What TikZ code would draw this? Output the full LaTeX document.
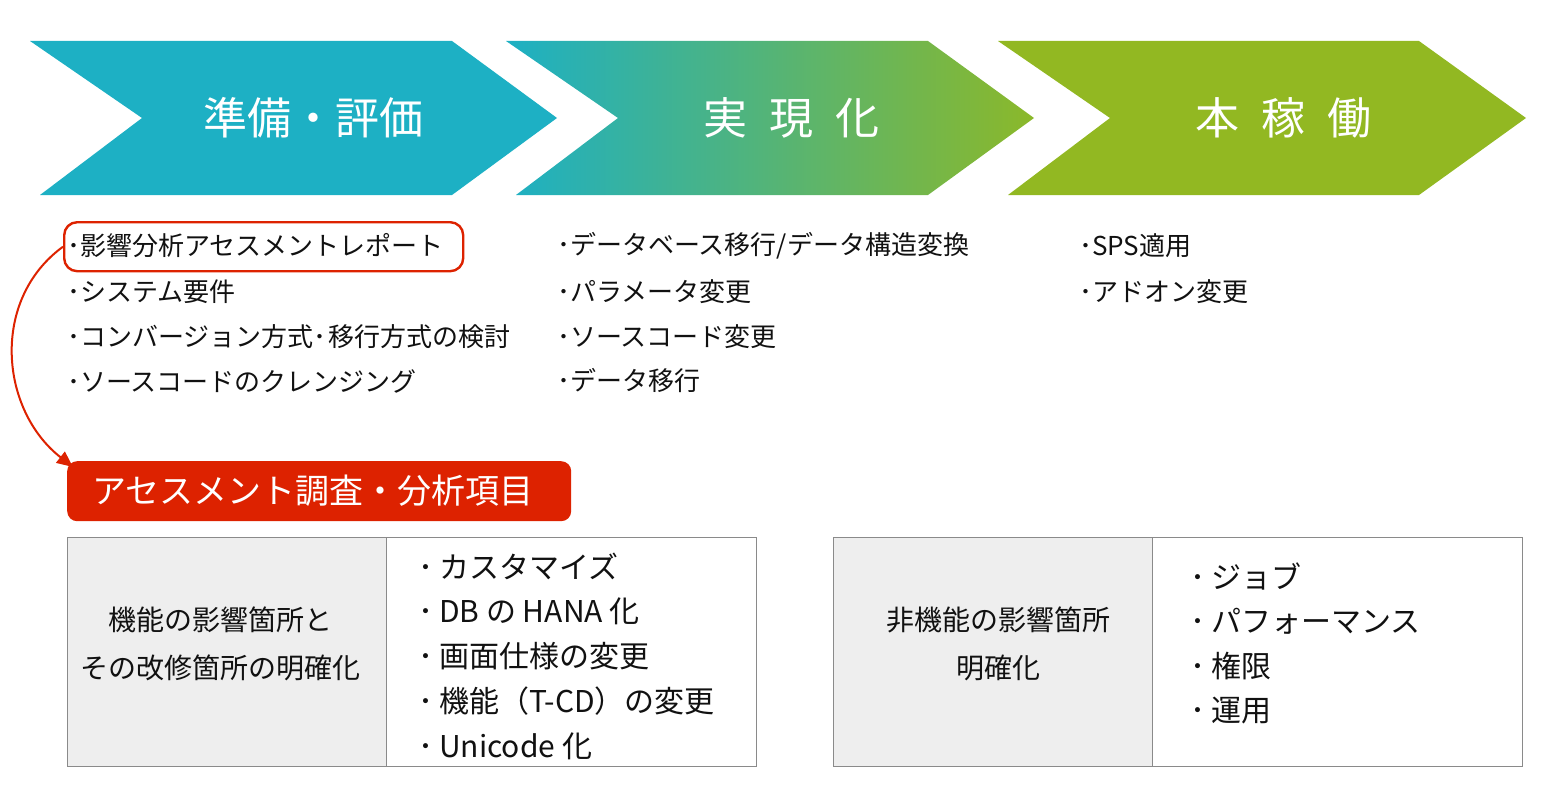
\documentclass[tikz,border=0pt]{standalone}
\usepackage{fontspec}
\setmainfont{Noto Sans CJK JP}
\usetikzlibrary{arrows.meta}
\definecolor{cteal}{HTML}{1DB0C4}
\definecolor{cgreen}{HTML}{92B822}
\definecolor{cgreenb}{HTML}{8BB82A}
\definecolor{cred}{HTML}{DD2200}
\definecolor{cgrayfill}{HTML}{EEEEEE}
\definecolor{cborder}{HTML}{8A8A8A}
\definecolor{ctext}{HTML}{111111}
\tikzset{
  title/.style={text=white, font=\fontsize{44}{50}\selectfont, inner sep=0pt},
  listitem/.style={text=ctext, font=\fontsize{26}{30}\selectfont, anchor=west, inner sep=0pt},
  boxitem/.style={text=ctext, font=\fontsize{30}{34}\selectfont, anchor=west, inner sep=0pt},
  graycell/.style={draw=cborder, line width=1.1pt, fill=cgrayfill, anchor=north west, minimum width=319pt, minimum height=229pt, inner sep=0pt},
  celltext/.style={text=ctext, font=\fontsize{28}{32}\selectfont, inner sep=0pt},
  whitecell/.style={draw=cborder, line width=1.1pt, fill=white, anchor=north west, minimum width=370pt, minimum height=229pt, inner sep=0pt},
}
\newcommand{\hb}{･}
\begin{document}
\begin{tikzpicture}[x=1pt,y=-1pt]
\useasboundingbox (0,0) rectangle (1559,808);
% chevrons
\fill[cteal] (30,41) -- (452,41) -- (557,118) -- (452,195) -- (40,195) -- (142,118) -- cycle;
\shade[left color=cteal, right color=cgreenb] (506,41) -- (928,41) -- (1034,118) -- (928,195) -- (516,195) -- (618,118) -- cycle;
\fill[cgreen] (998,41) -- (1419,41) -- (1526,118) -- (1419,195) -- (1008,195) -- (1110,118) -- cycle;
\node[title] (t1) at (313,118) {準備・評価};
\node[title] (t2) at (791,118) {実\hspace{0.5em}現\hspace{0.5em}化};
\node[title] (t3) at (1283,118) {本\hspace{0.5em}稼\hspace{0.5em}働};
% column 1
\node[draw=cred, line width=2.4pt, rounded corners=13pt, minimum width=399pt, minimum height=49pt, anchor=north west, inner sep=0pt] (rr) at (63,221) {};
\node[listitem] (a1) at (67,246) {\hb 影響分析アセスメントレポート};
\node[listitem] (a2) at (67,292) {\hb システム要件};
\node[listitem] (a3) at (67,337) {\hb コンバージョン方式\hb\hspace{2pt}移行方式の検討};
\node[listitem] (a4) at (67,381) {\hb ソースコードのクレンジング};
% column 2
\node[listitem] (b1) at (557,246) {\hb データベース移行/データ構造変換};
\node[listitem] (b2) at (557,292) {\hb パラメータ変更};
\node[listitem] (b3) at (557,337) {\hb ソースコード変更};
\node[listitem] (b4) at (557,381) {\hb データ移行};
% column 3
\node[listitem] (c1) at (1079,246) {\hb SPS適用};
\node[listitem] (c2) at (1079,292) {\hb アドオン変更};
% banner
\node[fill=cred, rounded corners=10pt, minimum width=504pt, minimum height=60pt, anchor=north west, inner sep=0pt] (ban) at (67,461) {};
\node[text=white, font=\fontsize{34}{40}\selectfont, inner sep=0pt] (bantext) at (313,491) {アセスメント調査・分析項目};
\coordinate (tip) at (73,467);
\draw[cred, line width=2pt, -{Triangle[length=16pt,width=14pt]}] (rr.west) .. controls (-10,300) and (0,410) .. (tip);
% left table
\node[graycell] (g1) at (67,537) {};
\node[celltext] (g1a) at (220,620) {機能の影響箇所と};
\node[celltext] (g1b) at (220,668) {その改修箇所の明確化};
\node[whitecell] (w1) at (386,537) {};
\node[boxitem] (d1) at (418,566) {\hb\hspace{6pt}カスタマイズ};
\node[boxitem] (d2) at (418,611) {\hb\hspace{6pt}DB の HANA 化};
\node[boxitem] (d3) at (418,656) {\hb\hspace{6pt}画面仕様の変更};
\node[boxitem] (d4) at (418,701) {\hb\hspace{6pt}機能（T-CD）の変更};
\node[boxitem] (d5) at (418,746) {\hb\hspace{6pt}Unicode 化};
% right table
\node[graycell] (g2) at (833,537) {};
\node[celltext] (g2a) at (998,620) {非機能の影響箇所};
\node[celltext] (g2b) at (998,668) {明確化};
\node[whitecell] (w2) at (1152,537) {};
\node[boxitem] (e1) at (1190,576) {\hb\hspace{6pt}ジョブ};
\node[boxitem] (e2) at (1190,621) {\hb\hspace{6pt}パフォーマンス};
\node[boxitem] (e3) at (1190,666) {\hb\hspace{6pt}権限};
\node[boxitem] (e4) at (1190,711) {\hb\hspace{6pt}運用};
\end{tikzpicture}
\end{document}
